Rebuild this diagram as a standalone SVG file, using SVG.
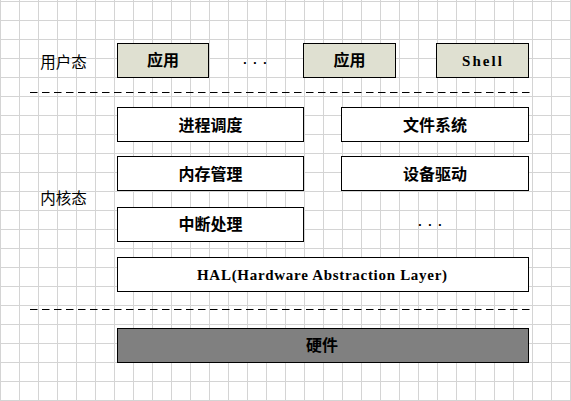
<svg xmlns="http://www.w3.org/2000/svg" width="571" height="401" viewBox="0 0 571 401">
  <style>
    .box { fill: #ffffff; stroke: #000000; stroke-width: 1; }
    .app { fill: #dfe0d1; stroke: #000000; stroke-width: 1; }
    .hw { fill: #808080; stroke: #000000; stroke-width: 1; }
    .lbl { font-family: "Noto Sans CJK SC", "Liberation Sans", sans-serif; font-size: 16px; fill: #000; text-anchor: middle; font-weight: bold; }
    .side { font-family: "Noto Sans CJK SC", "Liberation Sans", sans-serif; font-size: 15.5px; fill: #000; text-anchor: middle; font-weight: normal; }
    .mono { font-family: "Liberation Serif", "DejaVu Serif", serif; font-size: 15px; fill: #000; text-anchor: middle; font-weight: bold; }
    .dots { font-family: "Liberation Mono", monospace; font-size: 13px; fill: #000; font-weight: bold; letter-spacing: 2.2px; }
    .sep { stroke: #000000; stroke-width: 1; stroke-dasharray: 7.5 4.5; fill: none; }
  </style>
  <defs>
    <pattern id="grid" patternUnits="userSpaceOnUse" x="0" y="1" width="19" height="19">
      <path d="M0.5 0 V19 M0 0.5 H19" stroke="#d4d4d4" stroke-width="1" fill="none"/>
    </pattern>
  </defs>
  <rect x="0" y="0" width="571" height="401" fill="#ffffff"/>
  <rect x="0" y="0" width="571" height="401" fill="url(#grid)"/>

  <g id="label-user">
    <text class="side" x="63.5" y="68">用户态</text>
  </g>
  <g id="label-kernel">
    <text class="side" x="63.5" y="204">内核态</text>
  </g>

  <g id="app1">
    <rect class="app" x="117.5" y="43.5" width="91" height="34"/>
    <text class="lbl" x="163" y="66">应用</text>
  </g>
  <g id="dots-user">
    <text class="dots" x="241" y="64">...</text>
  </g>
  <g id="app2">
    <rect class="app" x="303.5" y="43.5" width="92" height="34"/>
    <text class="lbl" x="349.5" y="66">应用</text>
  </g>
  <g id="shell">
    <rect class="app" x="436.5" y="43.5" width="92" height="34"/>
    <text class="mono" x="482" y="65.5" textLength="40" lengthAdjust="spacing">Shell</text>
  </g>

  <g id="sched">
    <rect class="box" x="117.5" y="107.5" width="186" height="34"/>
    <text class="lbl" x="210.5" y="131">进程调度</text>
  </g>
  <g id="fs">
    <rect class="box" x="341.5" y="107.5" width="187" height="34"/>
    <text class="lbl" x="435" y="131">文件系统</text>
  </g>
  <g id="mem">
    <rect class="box" x="117.5" y="156.5" width="186" height="34"/>
    <text class="lbl" x="210.5" y="180">内存管理</text>
  </g>
  <g id="drv">
    <rect class="box" x="341.5" y="156.5" width="187" height="34"/>
    <text class="lbl" x="435" y="180">设备驱动</text>
  </g>
  <g id="irq">
    <rect class="box" x="117.5" y="207.5" width="186" height="34"/>
    <text class="lbl" x="210.5" y="230">中断处理</text>
  </g>
  <g id="dots-kernel">
    <text class="dots" x="416" y="226">...</text>
  </g>
  <g id="hal">
    <rect class="box" x="117.5" y="257.5" width="411" height="34"/>
    <text class="mono" x="322" y="280" textLength="250" lengthAdjust="spacing">HAL(Hardware Abstraction Layer)</text>
  </g>
  <g id="hardware">
    <rect class="hw" x="117.5" y="328.5" width="411" height="34"/>
    <text class="lbl" x="322" y="351">硬件</text>
  </g>

  <g id="separators">
    <line class="sep" x1="30" y1="92.5" x2="532" y2="92.5"/>
    <line class="sep" x1="30" y1="309.5" x2="532" y2="309.5"/>
  </g>
</svg>
